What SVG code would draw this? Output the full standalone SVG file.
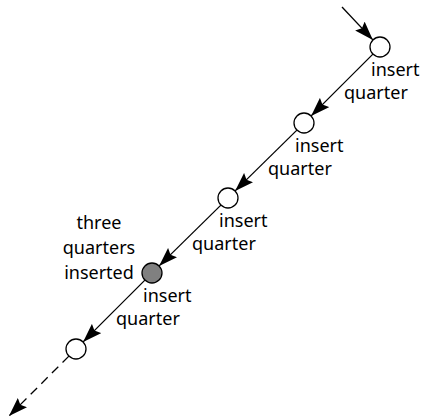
<svg xmlns="http://www.w3.org/2000/svg" width="426" height="418" viewBox="0 0 426 418">
<defs>
<style>
text{font-family:"Noto Sans",sans-serif;font-size:18px;fill:#000}
.n{fill:#fff;stroke:#000;stroke-width:1.3}
.g{fill:#808080;stroke:#000;stroke-width:1.3}
.e{stroke:#000;stroke-width:1.3;fill:none;marker-end:url(#ah)}
.d{stroke-dasharray:9,6}
</style>
<marker id="ah" markerUnits="userSpaceOnUse" markerWidth="20" markerHeight="14" refX="19" refY="7" orient="auto">
<path d="M0,0.5 L19,7 L0,13.5 L3,7 z" fill="#000"/>
</marker>
</defs>
<g id="connectors">
<line class="e" x1="342" y1="7" x2="372.9" y2="39.9"/>
<line class="e" x1="372.9" y1="54.1" x2="311.1" y2="115.9"/>
<line class="e" x1="296.9" y1="130.1" x2="235.1" y2="190.9"/>
<line class="e" x1="220.9" y1="205.1" x2="159.1" y2="265.9"/>
<line class="e" x1="144.9" y1="280.1" x2="83.1" y2="341.9"/>
<line class="e d" x1="68.9" y1="356.1" x2="9" y2="416"/>
</g>
<g id="node1"><circle class="n" cx="380" cy="47" r="10"/><text x="371" y="76">insert</text><text x="344" y="99">quarter</text></g>
<g id="node2"><circle class="n" cx="304" cy="123" r="10"/><text x="295" y="152">insert</text><text x="268" y="175">quarter</text></g>
<g id="node3"><circle class="n" cx="228" cy="198" r="10"/><text x="219" y="227">insert</text><text x="192" y="250">quarter</text></g>
<g id="node4"><circle class="g" cx="152" cy="273" r="10"/><text x="143" y="302">insert</text><text x="116" y="325">quarter</text>
<text x="99" y="229" text-anchor="middle">three</text><text x="99" y="254" text-anchor="middle">quarters</text><text x="99" y="279" text-anchor="middle">inserted</text></g>
<g id="node5"><circle class="n" cx="76" cy="349" r="10"/></g>
</svg>
